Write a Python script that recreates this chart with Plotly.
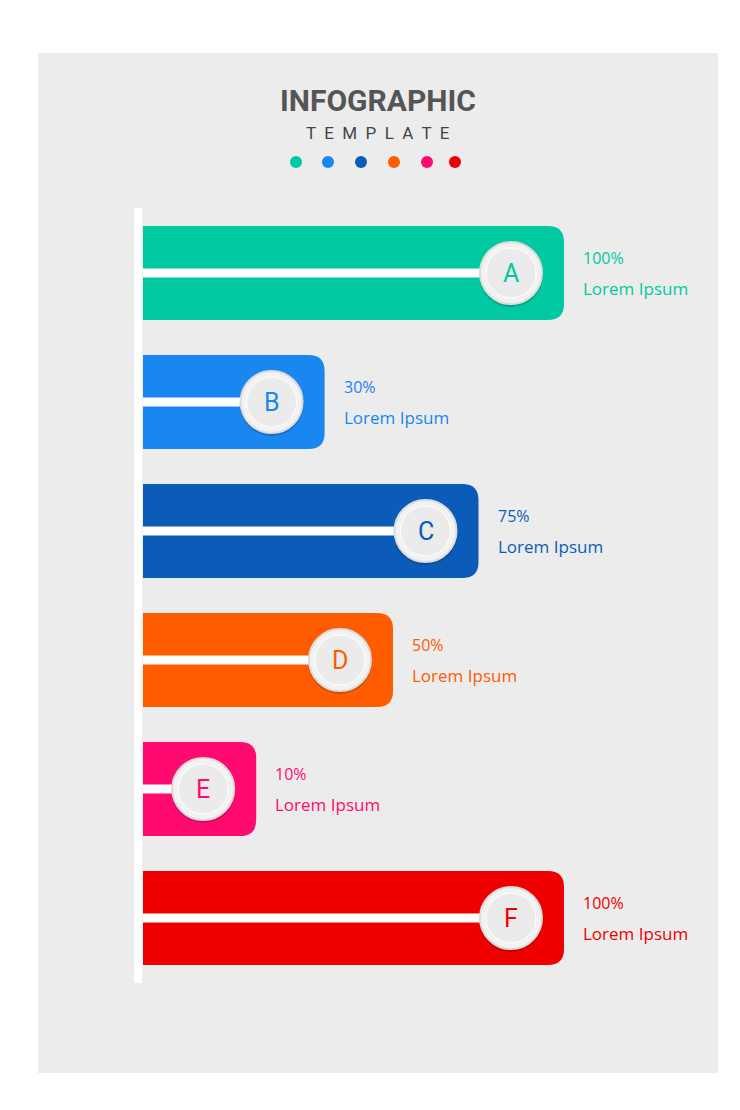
import plotly.graph_objects as go

# data
letters = ["A", "B", "C", "D", "E", "F"]
values = [100, 30, 75, 50, 10, 100]
captions = ["Lorem Ipsum"] * 6
colors = ["#00c9a2", "#1a86f0", "#0a5cb8", "#ff5c00", "#ff0a6e", "#ee0000"]
dot_colors = ["#00c9a2", "#1a86f0", "#0a5cb8", "#ff5c00", "#ff0a6e", "#ee0000"]

W, H = 740, 1110
SCALE = 3.42          # px per value unit
ORIGIN = 214          # pixel x of value 0
BAR_START = 135
x_range = [(0 - ORIGIN) / SCALE, (W - ORIGIN) / SCALE]


def px(v):
    return v / SCALE


def to_x(pixel):
    return (pixel - ORIGIN) / SCALE


fig = go.Figure()
shapes = []
annotations = []

# card background
shapes.append(dict(type="rect", xref="paper", yref="paper", x0=30 / W, x1=710 / W,
                   y0=1 - 1065 / H, y1=1 - 45 / H, fillcolor="#ececec",
                   line=dict(width=0), layer="below"))
# vertical axis line
shapes.append(dict(type="line", x0=to_x(130), x1=to_x(130), y0=200, y1=975,
                   line=dict(color="white", width=8)))

bar_top = 218
step = 129
bar_h = 94
r = 16
for i, (let, val, cap, col) in enumerate(zip(letters, values, captions, colors)):
    y0 = bar_top + i * step
    y1 = y0 + bar_h
    x0 = to_x(BAR_START)
    x1 = val
    rx = px(r)
    path = (f"M {x0},{y0} L {x1 - rx},{y0} Q {x1},{y0} {x1},{y0 + r} "
            f"L {x1},{y1 - r} Q {x1},{y1} {x1 - rx},{y1} L {x0},{y1} Z")
    shapes.append(dict(type="path", path=path, fillcolor=col, line=dict(width=0)))
    yc = (y0 + y1) / 2
    cx = x1 - px(53)
    shapes.append(dict(type="line", x0=x0, x1=cx, y0=yc, y1=yc,
                       line=dict(color="white", width=9)))
    # circle shadow + disc
    shapes.append(dict(type="circle", x0=cx - px(32), x1=cx + px(32), y0=yc - 30, y1=yc + 34,
                       fillcolor="rgba(0,0,0,0.18)", line=dict(width=0)))
    shapes.append(dict(type="circle", x0=cx - px(31), x1=cx + px(31), y0=yc - 31, y1=yc + 31,
                       fillcolor="#f2f2f2", line=dict(color="#dcdcdc", width=2)))
    shapes.append(dict(type="circle", x0=cx - px(25), x1=cx + px(25), y0=yc - 25, y1=yc + 25,
                       fillcolor="#ebebeb", line=dict(color="#ffffff", width=1)))
    annotations.append(dict(x=cx, y=yc, text=let, showarrow=False,
                            font=dict(size=25, color=col, family="Roboto")))
    tx = x1 + px(17)
    annotations.append(dict(x=tx, y=yc - 2, text=f"{val}%", showarrow=False, xanchor="left",
                            yanchor="bottom", font=dict(size=16, color=col, family="Open Sans")))
    annotations.append(dict(x=tx, y=yc + 2, text=cap, showarrow=False, xanchor="left",
                            yanchor="top", font=dict(size=17, color=col, family="Open Sans")))

# title
annotations.append(dict(x=0.5, xref="paper", y=92, text="<b>INFOGRAPHIC</b>", showarrow=False,
                        font=dict(size=30, color="#555555", family="Roboto")))
annotations.append(dict(x=0.5, xref="paper", y=125, text="T  E  M  P  L  A  T  E", showarrow=False,
                        font=dict(size=17, color="#444444", family="Roboto")))

dot_px = [288, 320, 353, 386, 419, 447]
fig.add_trace(go.Scatter(x=[to_x(p) for p in dot_px], y=[154] * len(dot_px), mode="markers",
                         marker=dict(size=12, color=dot_colors), hoverinfo="skip"))

fig.update_layout(
    width=W, height=H, margin=dict(l=0, r=0, t=0, b=0),
    paper_bgcolor="white", plot_bgcolor="rgba(0,0,0,0)", showlegend=False,
    xaxis=dict(range=x_range, visible=False, fixedrange=True),
    yaxis=dict(range=[H, 0], visible=False, fixedrange=True),
    shapes=shapes, annotations=annotations,
)
fig.write_html("out.html")
